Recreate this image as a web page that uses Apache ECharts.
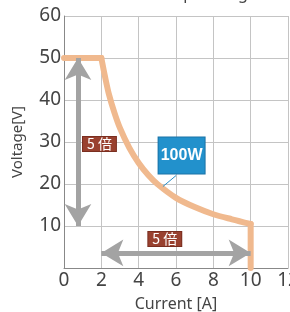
<!DOCTYPE html>
<html>
<head>
<meta charset="utf-8">
<script src="https://cdn.jsdelivr.net/npm/echarts@6/dist/echarts.min.js"></script>
<style>
  html, body { margin: 0; padding: 0; background: #fff; }
  #chart { width: 290px; height: 312px; }
</style>
</head>
<body>
<div id="chart"></div>
<script>
// Output curve: constant voltage, constant power (100W), constant current
const flatPart = [[0, 50], [2, 50]];
const powerPart = [
  [2, 50], [2.2, 45.5], [2.4, 41.5], [2.7, 37], [3, 33.3], [3.5, 28.6],
  [4, 25], [4.5, 22.2], [5, 20], [6, 16.7], [7, 14.5], [8, 12.8],
  [9, 11.6], [10, 10.5]
];
const dropPart = [[10, 10.5], [10, 0]];
const xTicks = [0, 2, 4, 6, 8, 10, 12];
const yTicks = [0, 10, 20, 30, 40, 50, 60];

// Arrow ends and labels
const vArrow = [[0.75, 50], [0.75, 10]];
const hArrow = [[2, 3.6], [10, 3.6]];
const ratioLabels = [[1.9, 29.5], [5.4, 6.9]];
const ratioText = "5 倍";
const powerBox = [6.3, 26.8];
const powerText = "100W";
const pointer = [[5.3, 19.4], [6.0, 22.0]];

const chart = echarts.init(document.getElementById("chart"));
const font = "'Noto Sans', sans-serif";
const curveStyle = { color: "#f0b98e", width: 6, cap: "round", join: "round" };

function curve(data, smooth) {
  return { type: "line", data: data, smooth: smooth, symbol: "none", lineStyle: curveStyle, z: 3 };
}

const option = {
  animation: false,
  title: {
    text: "Output range",
    left: 150,
    top: -19,
    textStyle: { fontSize: 16, fontWeight: "normal", color: "#444", fontFamily: font }
  },
  grid: { left: 64, right: 2, top: 16, bottom: 44, outerBoundsMode: "none", containLabel: false },
  xAxis: {
    type: "value",
    min: xTicks[0],
    max: xTicks[xTicks.length - 1],
    interval: 2,
    name: "Current [A]",
    nameLocation: "middle",
    nameGap: 28,
    nameTextStyle: { fontSize: 16, color: "#444", fontFamily: font },
    axisLine: { lineStyle: { color: "#888", width: 1 } },
    axisTick: { show: false },
    axisLabel: { fontSize: 19, color: "#444", fontFamily: font, margin: 3 },
    splitLine: { lineStyle: { color: "#c4c4c4", width: 1 } }
  },
  yAxis: {
    type: "value",
    min: yTicks[0],
    max: yTicks[yTicks.length - 1],
    interval: 10,
    name: "Voltage[V]",
    nameLocation: "middle",
    nameGap: 39,
    nameTextStyle: { fontSize: 15, color: "#444", fontFamily: font },
    axisLine: { show: true, lineStyle: { color: "#888", width: 1 } },
    axisTick: { show: false },
    axisLabel: { fontSize: 19, color: "#444", fontFamily: font, margin: 3, showMinLabel: false },
    splitLine: { lineStyle: { color: "#c4c4c4", width: 1 } }
  },
  series: [
    curve(flatPart, false),
    curve(powerPart, 0.3),
    curve(dropPart, false),
    {
      type: "line",
      data: [],
      z: 4,
      markLine: {
        silent: true,
        symbol: ["arrow", "arrow"],
        symbolSize: [20, 22],
        label: { show: false },
        lineStyle: { color: "#a3a3a3", width: 5, type: "solid", opacity: 1 },
        emphasis: { disabled: true },
        data: [
          [{ coord: vArrow[0] }, { coord: vArrow[1] }],
          [{ coord: hArrow[0] }, { coord: hArrow[1] }]
        ]
      }
    },
    {
      type: "line",
      data: pointer,
      symbol: "none",
      lineStyle: { color: "#2a8fc8", width: 1 },
      z: 5
    },
    {
      type: "scatter",
      data: ratioLabels,
      symbolSize: 0,
      z: 6,
      itemStyle: { opacity: 1 },
      label: {
        show: true,
        position: "inside",
        formatter: ratioText,
        color: "#fff",
        fontSize: 14,
        fontFamily: "'Noto Sans CJK JP', sans-serif",
        backgroundColor: "#99412f",
        borderColor: "#7a2e20",
        borderWidth: 1,
        padding: [0, 4, 0, 4]
      }
    },
    {
      type: "scatter",
      data: [powerBox],
      symbolSize: 0,
      z: 7,
      itemStyle: { opacity: 1 },
      label: {
        show: true,
        position: "inside",
        formatter: powerText,
        color: "#fff",
        fontSize: 16,
        fontWeight: "bold",
        fontFamily: "'Liberation Sans', sans-serif",
        backgroundColor: "#2291cc",
        borderColor: "#1a72a6",
        borderWidth: 1,
        width: 46,
        height: 36,
        align: "center",
        verticalAlign: "middle",
        lineHeight: 36,
        padding: 0
      }
    }
  ]
};

chart.setOption(option);
window.addEventListener("resize", chart.resize);
</script>
</body>
</html>
